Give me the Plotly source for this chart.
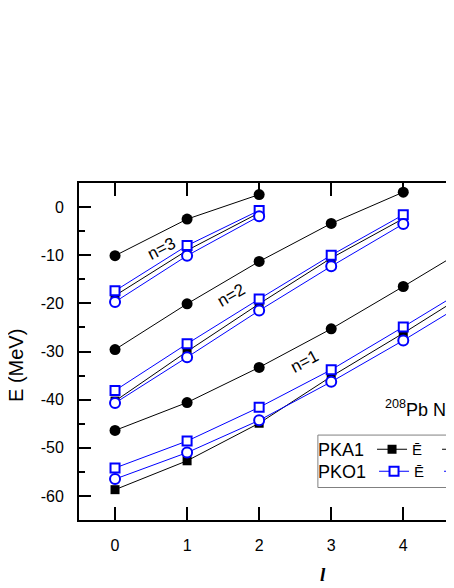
"""208Pb neutron single-particle levels: PKA1 vs PKO1."""

import plotly.graph_objects as go

BLUE = "#0000ff"
FONT = "Arial, Liberation Sans, sans-serif"

# orbital angular momentum l for each radial node n
L_N1 = [0, 1, 2, 3, 4, 5]
L_N2 = [0, 1, 2, 3, 4]
L_N3 = [0, 1, 2]

# PKA1, E-bar (filled squares)
PKA1_EBAR_N1 = [-58.7, -52.7, -44.9, -35.2, -26.2, -16.8]
PKA1_EBAR_N2 = [-40.3, -30.0, -20.1, -10.6, -2.4]
PKA1_EBAR_N3 = [-18.4, -9.0, -1.2]

# PKA1, second quantity (filled circles)
PKA1_E2_N1 = [-46.4, -40.6, -33.3, -25.3, -16.5, -7.5]
PKA1_E2_N2 = [-29.6, -20.1, -11.3, -3.4, 3.1]
PKA1_E2_N3 = [-10.1, -2.5, 2.6]

# PKO1, E-bar (open squares)
PKO1_EBAR_N1 = [-54.2, -48.6, -41.6, -33.8, -24.9, -15.8]
PKO1_EBAR_N2 = [-38.1, -28.4, -19.1, -10.0, -1.6]
PKO1_EBAR_N3 = [-17.4, -8.0, -0.7]

# PKO1, second quantity (open circles)
PKO1_E2_N1 = [-56.5, -51.0, -44.3, -36.3, -27.7, -18.6]
PKO1_E2_N2 = [-40.7, -31.2, -21.5, -12.3, -3.5]
PKO1_E2_N3 = [-19.7, -10.1, -1.9]

Y_TICKS = [-60, -50, -40, -30, -20, -10, 0]
Y_TICK_TEXT = ["-60", "-50", "-40", "-30", "-20", "-10", "0"]
X_TICKS = [0, 1, 2, 3, 4]

L_BY_N = [L_N1, L_N2, L_N3]

series = [
    ("Ē", [PKA1_EBAR_N1, PKA1_EBAR_N2, PKA1_EBAR_N3], "legend",
     dict(symbol="square", size=9, color="black"), "black"),
    ("E<sub>0</sub>", [PKA1_E2_N1, PKA1_E2_N2, PKA1_E2_N3], "legend",
     dict(symbol="circle", size=11, color="black"), "black"),
    ("Ē", [PKO1_EBAR_N1, PKO1_EBAR_N2, PKO1_EBAR_N3], "legend2",
     dict(symbol="square", size=9, color="white", line=dict(color=BLUE, width=2)), BLUE),
    ("E<sub>0</sub>", [PKO1_E2_N1, PKO1_E2_N2, PKO1_E2_N3], "legend2",
     dict(symbol="circle", size=10, color="white", line=dict(color=BLUE, width=2)), BLUE),
]

fig = go.Figure()
for name, ys, leg, marker, color in series:
    for i, (ls, y) in enumerate(zip(L_BY_N, ys)):
        fig.add_trace(go.Scatter(
            x=ls, y=y, mode="lines+markers", name=name,
            line=dict(color=color, width=1), marker=marker,
            legend=leg, showlegend=(i == 0), hoverinfo="skip",
        ))

# n labels along the level curves
for txt, x, y, ang in [("n=3", 0.65, -8.6, -27), ("n=2", 1.61, -18.4, -30), ("n=1", 2.63, -32.0, -28)]:
    fig.add_annotation(x=x, y=y, text=txt, showarrow=False, textangle=ang,
                       font=dict(size=17, color="black", family=FONT))

fig.add_annotation(x=-0.168, y=0.46, xref="paper", yref="paper", xanchor="center", yanchor="middle",
                   text="E (MeV)", textangle=-90, showarrow=False,
                   font=dict(size=20, color="black", family=FONT))
fig.add_annotation(x=0.651, y=-0.163, xref="paper", yref="paper", xanchor="center", yanchor="middle",
                   text="<b><i>l</i></b>", showarrow=False,
                   font=dict(size=19, color="black", family="Liberation Serif, serif"))
fig.add_annotation(x=0.811, y=0.33, xref="paper", yref="paper", xanchor="left", yanchor="middle",
                   text="<sup>208</sup>Pb Neutron", showarrow=False,
                   font=dict(size=18, color="black", family=FONT))

# legend frame
fig.add_shape(type="rect", xref="paper", yref="paper", x0=0.637, x1=1.3, y0=0.0964, y1=0.252,
              line=dict(color="#808080", width=1), fillcolor="white", layer="below")

leg_common = dict(orientation="h", xanchor="left", yanchor="middle", bgcolor="rgba(0,0,0,0)",
                  font=dict(size=15, color="black", family=FONT), itemclick=False,
                  entrywidth=20, entrywidthmode="pixels")
# page body has an 8px margin, so the figure is sized to end at the window edge
fig.update_layout(
    width=446, height=580,
    margin=dict(l=71, r=0, t=175, b=68, autoexpand=False),
    paper_bgcolor="white", plot_bgcolor="white",
    font=dict(family=FONT, color="black"),
    legend=dict(x=0.632, y=0.2077, title=dict(text="PKA1", side="left"), **leg_common),
    legend2=dict(x=0.632, y=0.1424, title=dict(text="PKO1", side="left"), **leg_common),
)
fig.update_xaxes(
    range=[-0.5, 4.704], tickvals=X_TICKS, ticks="inside", ticklen=13, tickwidth=2,
    tickcolor="black", showline=True, linewidth=2, linecolor="black", mirror="ticks",
    showgrid=False, zeroline=False, tickfont=dict(size=16), ticklabelstandoff=10,
)
fig.update_yaxes(
    range=[-65, 5], tickvals=Y_TICKS, ticktext=Y_TICK_TEXT, ticks="inside", ticklen=12,
    tickwidth=2, tickcolor="black", showline=True, linewidth=2, linecolor="black", mirror=False,
    showgrid=False, zeroline=False, tickfont=dict(size=16), ticklabelstandoff=10,
    minor=dict(tickvals=[-55, -45, -35, -25, -15, -5], ticks="inside", ticklen=6,
               tickwidth=2, tickcolor="black", showgrid=False),
)

fig.write_html("out.html", config={"displayModeBar": False})
